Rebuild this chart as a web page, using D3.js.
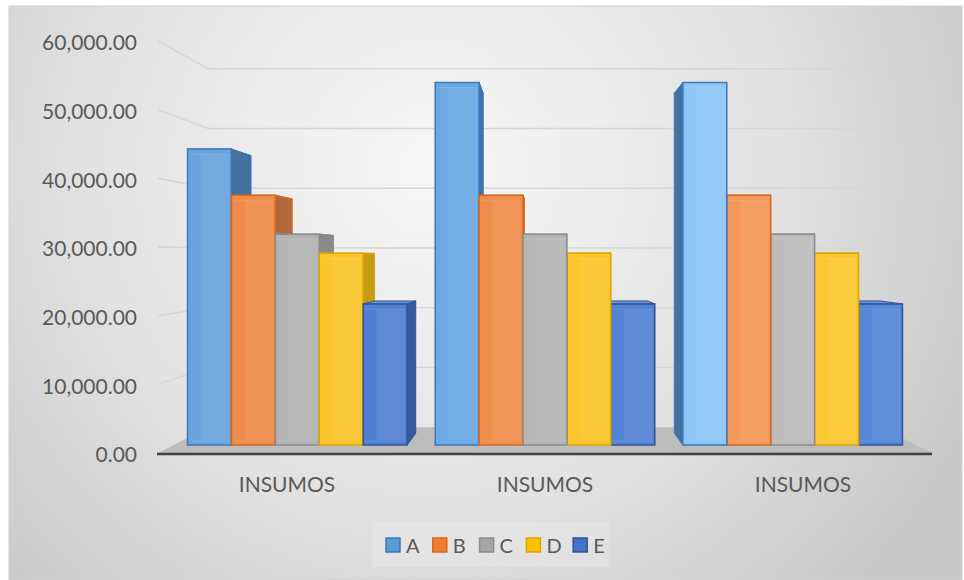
<!DOCTYPE html>
<html>
<head>
<meta charset="utf-8">
<script src="https://cdn.jsdelivr.net/npm/d3@7"></script>
<style>
  html, body { margin: 0; padding: 0; background: #fff; }
  svg { display: block; }
  text { font-family: Lato, "Open Sans", sans-serif; fill: #595959; }
</style>
</head>
<body>
<div id="chart"></div>
<script>
// Data
const categories = ["INSUMOS", "INSUMOS", "INSUMOS"];
const seriesNames = ["A", "B", "C", "D", "E"];
const valuesA = [44900, 55000, 55000];
const valuesB = [37900, 37900, 37900];
const valuesC = [32000, 32000, 32000];
const valuesD = [29100, 29100, 29100];
const valuesE = [21400, 21400, 21400];
const yTicks = [0, 10000, 20000, 30000, 40000, 50000, 60000];

const seriesValues = [valuesA, valuesB, valuesC, valuesD, valuesE];

const W = 964, H = 580;
const m = { t: 41, r: 32, b: 127, l: 158 };

// perspective: vanishing point and depth scales
const vp = { x: 545, y: 255 };
const sBack = 0.87;      // back wall
const sBarFront = 0.96;  // bar front faces
const sBarBack = 0.9;    // bar back faces
const project = (X, Y, s) => [vp.x + (X - vp.x) * s, vp.y + (Y - vp.y) * s];

const styles = [
  { front: ["#6aa3dc", "#6ca9e4", "#8ec6f6"], side: "#44719f", top: "#7fb2e4", stroke: "#3d78bb" },
  { front: ["#ef8b4b", "#f08d4c", "#f4995a"], side: "#b3683a", top: "#f5a46e", stroke: "#d7691f" },
  { front: ["#b3b3b3", "#b5b5b5", "#bcbcbc"], side: "#8a8a8a", top: "#c4c4c4", stroke: "#8c8c8c" },
  { front: ["#fbc42a", "#fcc52b", "#fcc830"], side: "#c79b12", top: "#fdd35a", stroke: "#dca600" },
  { front: ["#5180d2", "#5383d4", "#5686d6"], side: "#355b9c", top: "#6a93da", stroke: "#2f5597" }
];

const legendFill = ["#5b9bd5", "#ed7d31", "#a5a5a5", "#ffc000", "#4472c4"];

const svg = d3.select("#chart").append("svg")
  .attr("width", W).attr("height", H);

const defs = svg.append("defs");
const bg = defs.append("radialGradient")
  .attr("id", "bg").attr("gradientUnits", "userSpaceOnUse")
  .attr("cx", 430).attr("cy", 170).attr("r", 620);
bg.append("stop").attr("offset", "0").attr("stop-color", "#f7f7f7");
bg.append("stop").attr("offset", "0.55").attr("stop-color", "#e2e2e2");
bg.append("stop").attr("offset", "1").attr("stop-color", "#c6c6c6");

svg.append("rect")
  .attr("x", 9).attr("y", 6).attr("width", 953).attr("height", 574)
  .attr("fill", "url(#bg)")
  .attr("stroke", "#d0d0d0");

const x = d3.scaleBand()
  .domain(d3.range(categories.length))
  .range([m.l, W - m.r]);

const xs = d3.scaleBand()
  .domain(seriesNames)
  .range([0, x.bandwidth()])
  .paddingOuter(0.32);

const y = d3.scaleLinear()
  .domain([0, 60000])
  .range([H - m.b, m.t]);

// gridlines: left side wall + back wall
const x0 = x.range()[0], x1 = x.range()[1];
svg.append("g")
  .selectAll("polyline")
  .data(yTicks.filter(d => d > 0))
  .enter()
  .append("polyline")
  .attr("points", d => [[x0, y(d)], project(x0, y(d), sBack), project(x1, y(d), sBack)].join(" "))
  .attr("fill", "none")
  .attr("stroke", "#d6d6d6")
  .attr("stroke-width", 1.5);

// floor
svg.append("polygon")
  .attr("points", [[x0, y(0)], [x1, y(0)], project(x1, y(0), sBack), project(x0, y(0), sBack)].join(" "))
  .attr("fill", "#bdbdbd");

svg.append("line")
  .attr("x1", x0 - 1).attr("x2", x1)
  .attr("y1", y(0) + 1).attr("y2", y(0) + 1)
  .attr("stroke", "#404040")
  .attr("stroke-width", 2.5);

// bars
const bars = [];
categories.forEach((c, ci) => {
  seriesNames.forEach((s, si) => {
    const X0 = x(ci) + xs(s), X1 = X0 + xs.bandwidth();
    bars.push({ ci, si, X0, X1, v: seriesValues[si][ci] });
  });
});
bars.sort((a, b) => Math.abs((b.X0 + b.X1) / 2 - vp.x) - Math.abs((a.X0 + a.X1) / 2 - vp.x));

const gBars = svg.append("g");
bars.forEach(b => {
  const st = styles[b.si];
  const Yt = y(b.v), Yb = y(0);
  const fTL = project(b.X0, Yt, sBarFront), fTR = project(b.X1, Yt, sBarFront);
  const fBL = project(b.X0, Yb, sBarFront), fBR = project(b.X1, Yb, sBarFront);
  const bTL = project(b.X0, Yt, sBarBack), bTR = project(b.X1, Yt, sBarBack);
  const bBL = project(b.X0, Yb, sBarBack), bBR = project(b.X1, Yb, sBarBack);
  const g = gBars.append("g");

  g.append("polygon")
    .attr("points", [fTL, fTR, bTR, bTL].join(" "))
    .attr("fill", st.top).attr("stroke", st.stroke).attr("stroke-width", 1);

  const side = (b.X0 + b.X1) / 2 < vp.x
    ? [fTR, bTR, bBR, fBR]
    : [fTL, bTL, bBL, fBL];
  g.append("polygon")
    .attr("points", side.join(" "))
    .attr("fill", st.side).attr("stroke", st.stroke).attr("stroke-width", 1);

  g.append("polygon")
    .attr("points", [fTL, fTR, fBR, fBL].join(" "))
    .attr("fill", st.front[b.ci]).attr("stroke", st.stroke).attr("stroke-width", 1.5);

  // bevel highlight inside front face
  const w = fTR[0] - fTL[0];
  g.append("rect")
    .attr("x", fTL[0] + w * 0.3).attr("y", fTL[1] + 5)
    .attr("width", w * 0.62).attr("height", fBL[1] - fTL[1] - 10)
    .attr("fill", "#fff").attr("opacity", 0.07);
  g.append("polyline")
    .attr("points", [[fTL[0] + 2, fTL[1] + 5], [fTR[0] - 3, fTL[1] + 5], [fTR[0] - 3, fBR[1] - 4], [fTL[0] + 2, fBR[1] - 4]].join(" "))
    .attr("fill", "none").attr("stroke", "#fff").attr("stroke-opacity", 0.12);
});

// y axis labels
const yAxis = svg.append("g")
  .attr("transform", `translate(${137},2)`)
  .call(d3.axisLeft(y).tickValues(yTicks).tickFormat(d3.format(",.2f")).tickSize(0).tickPadding(0));
yAxis.select(".domain").remove();
yAxis.selectAll("text")
  .attr("font-size", "21px")
  .style("font-family", "Lato, 'Open Sans', sans-serif")
  .attr("fill", "#595959");

// category labels
const xAxis = svg.append("g")
  .attr("transform", `translate(0,${y(0)})`)
  .call(d3.axisBottom(x).tickFormat(i => categories[i]).tickSize(0).tickPadding(24));
xAxis.select(".domain").remove();
xAxis.selectAll("text")
  .attr("font-size", "21px")
  .style("font-family", "Lato, 'Open Sans', sans-serif")
  .attr("fill", "#595959");

// legend
const lg = svg.append("g");
lg.append("rect")
  .attr("x", 372).attr("y", 522).attr("width", 237).attr("height", 45)
  .attr("fill", "#ffffff").attr("opacity", 0.18);
const item = lg.selectAll("g.item")
  .data(seriesNames)
  .enter().append("g")
  .attr("transform", (d, i) => `translate(${386 + i * 46.8},538)`);
item.append("rect")
  .attr("width", 14).attr("height", 14)
  .attr("fill", (d, i) => legendFill[i])
  .attr("stroke", (d, i) => styles[i].stroke)
  .attr("stroke-width", 1.5);
item.append("text")
  .attr("x", 20).attr("y", 14.5)
  .attr("font-size", "20px")
  .text(d => d);
</script>
</body>
</html>
